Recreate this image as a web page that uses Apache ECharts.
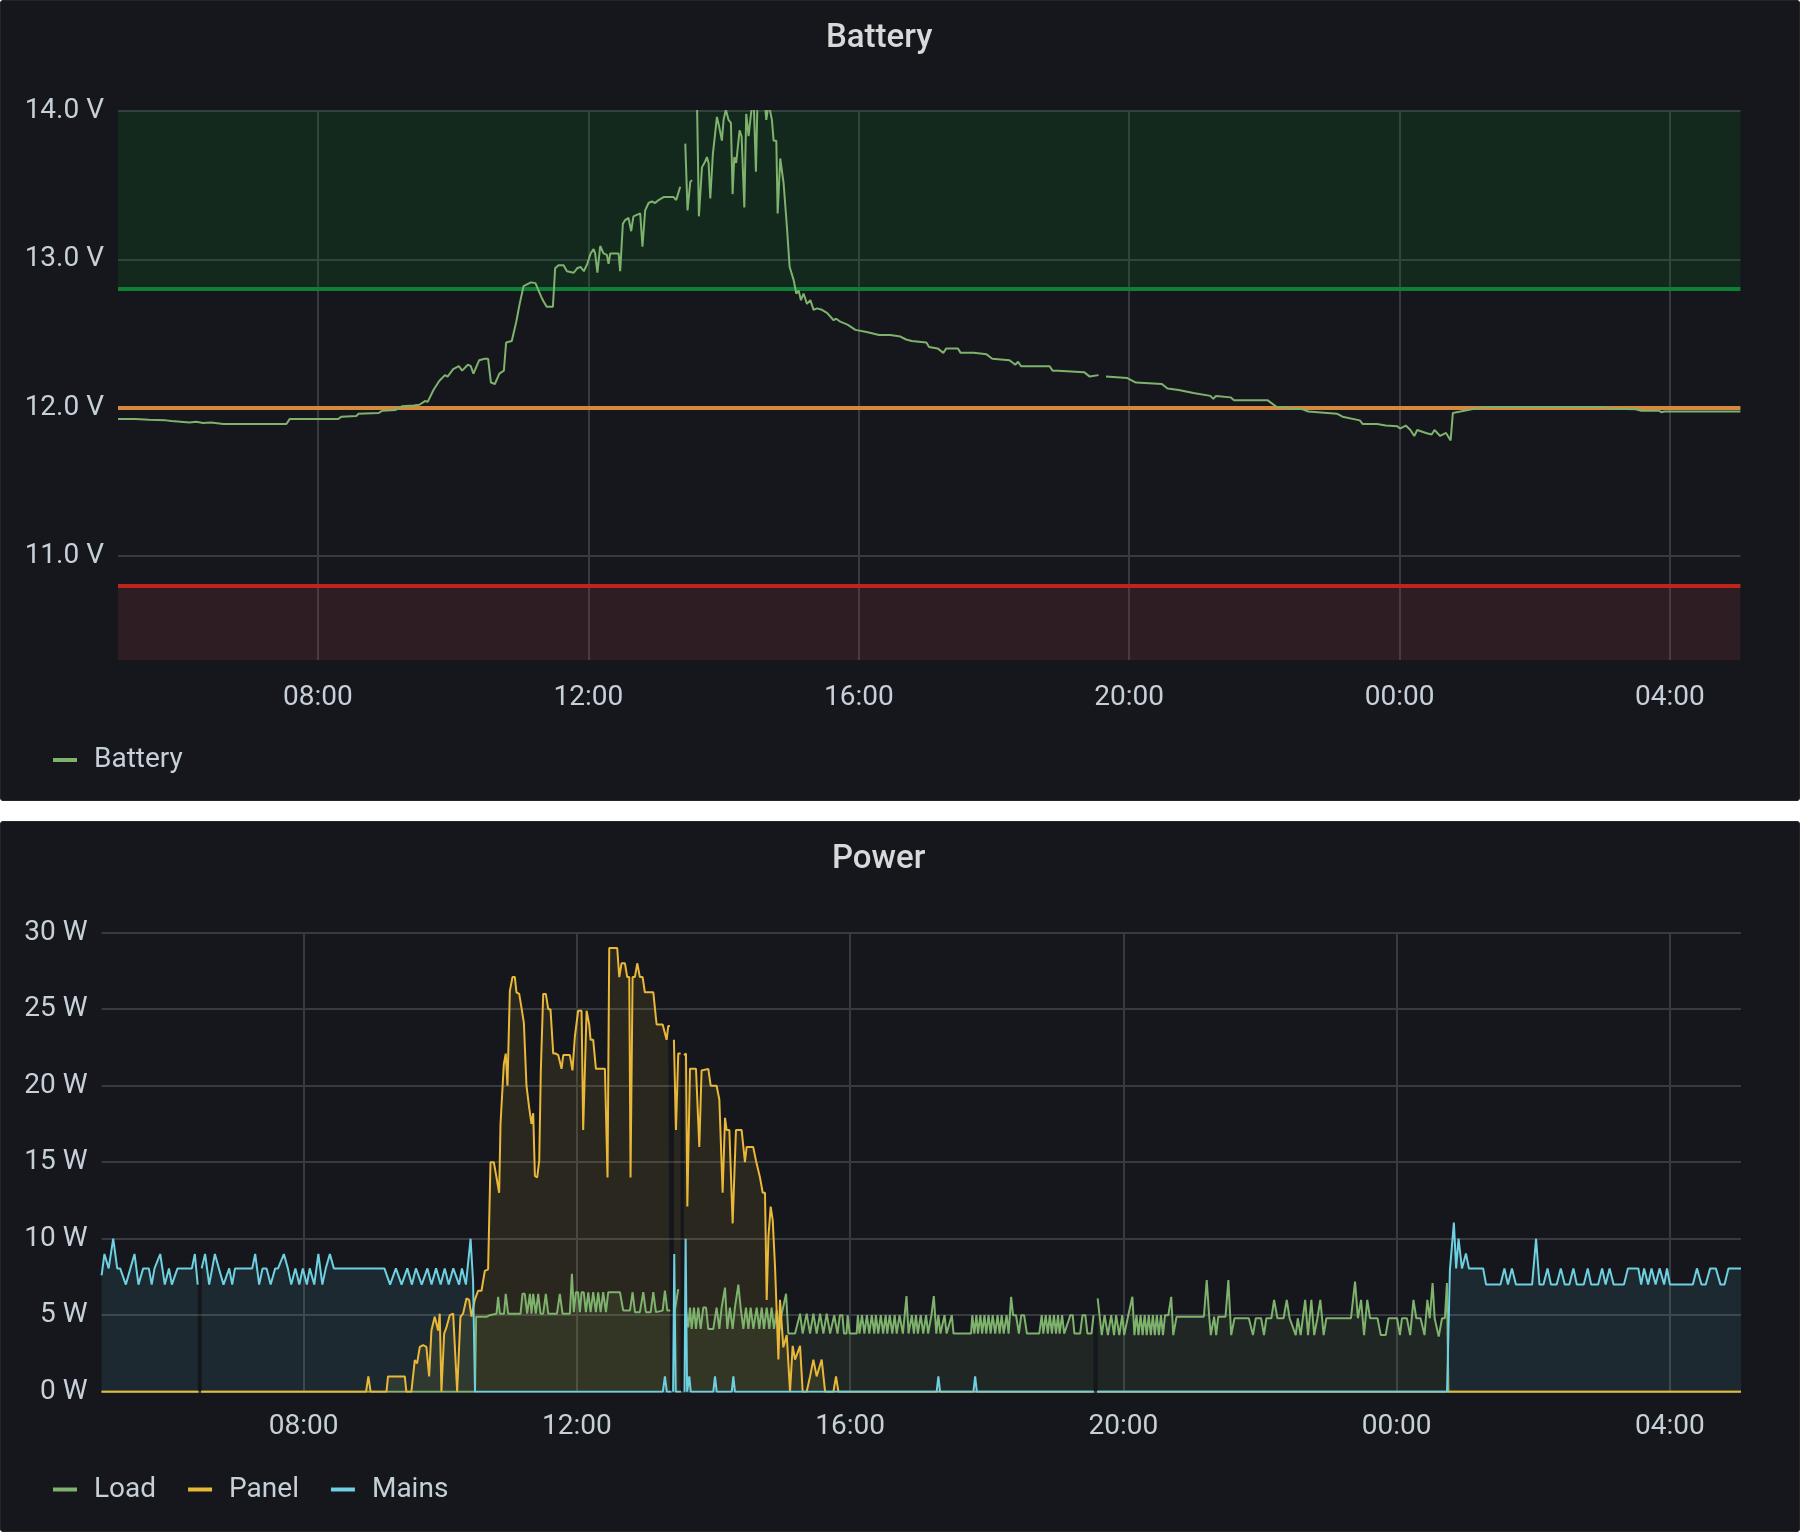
<!DOCTYPE html>
<html><head><meta charset="utf-8">
<script src="https://cdn.jsdelivr.net/npm/echarts@6/dist/echarts.min.js"></script>
<style>
html,body{margin:0;padding:0;background:#ffffff;width:1800px;height:1532px;overflow:hidden}
.panel{position:absolute;left:0;width:1800px;background:#15171c;border-radius:4px;box-shadow:inset 0 0 0 1px #22252b}
#p1{top:0;height:801px}
#p2{top:821px;height:711px}
</style></head><body>
<div id="p1" class="panel"></div><div id="p2" class="panel"></div>
<script>
// ---- time domain (minutes since 00:00 of the first day) ----
const START = 302.5, END = 1742.5;
const xTickMinutes = [480, 720, 960, 1200, 1440, 1680];
const batteryTicks = [11, 12, 13, 14];
const powerTicks = [0, 5, 10, 15, 20, 25, 30];
const thresholds = { low: 10.8, mid: 12.0, high: 12.8 };

// ---- Battery voltage [minute, V] ----
const batteryData = [
[302.5,11.925],[318,11.925],[330,11.92],[331,11.915],[345,11.915],[350,11.91],[358,11.905],[366,11.9],[372,11.905],[378,11.897],[385,11.9],[396,11.89],[420,11.89],[452,11.89],[455,11.925],[470,11.925],[498,11.925],[501,11.94],[514,11.945],[516,11.96],[534,11.965],[537,11.98],[549,11.985],[554.5,12.01],[565,12.015],[570,12.02],[575,12.045],[577.4,12.04],[582.5,12.12],[587.6,12.18],[592.7,12.22],[595,12.21],[600,12.26],[605,12.28],[608,12.25],[613,12.29],[615.6,12.28],[618,12.23],[623,12.32],[628,12.33],[631,12.33],[633.5,12.17],[637,12.16],[641,12.23],[645,12.25],[647,12.44],[652,12.45],[656,12.58],[659,12.7],[662.5,12.82],[669,12.845],[673,12.84],[678,12.75],[680,12.72],[683,12.68],[686,12.68],[688.5,12.68],
[690.5,12.94],[693.5,12.96],[698,12.96],[701,12.92],[707,12.91],[710,12.94],[713,12.95],[716,12.92],[719,12.97],[722,13.04],[724.6,13.07],[726,13.04],[728,12.91],[730.5,13.09],[733.4,13.04],[736.4,13.03],[737.9,12.97],[739.4,13.04],[743.8,13.04],[746.8,13.04],[748.2,12.92],[750.6,13.24],[752.7,13.265],[755.6,13.28],[758,13.19],[760,13.29],[766,13.31],[768,13.085],[770.4,13.33],[773.4,13.38],[776.4,13.39],[779.3,13.38],[782.3,13.4],[786.7,13.42],[791.2,13.42],[795.6,13.42],[798,13.4],[801.5,13.49],[803.5,null],[806,13.78],[808,13.33],[810.4,13.52],[811.9,13.535],[813.5,null],[816.3,14.1],[818.1,13.29],[820.8,13.62],[823.7,13.66],[825.2,13.69],[826.7,13.65],[828.2,13.41],[830.5,13.71],[834.1,13.96],[836.2,13.89],[838.5,13.8],[840,13.94],[842,14.01],[844.4,13.94],[846.5,13.92],[848,13.44],[849.5,13.69],[851.2,13.65],[852.4,13.74],[854.2,13.87],[856,13.83],[858.4,13.35],[860.1,13.98],[862.2,13.83],[864.3,13.98],[866.6,14.1],[868.7,13.59],[870.2,14.1],[875,14.2],[877.9,13.94],[880,14.05],[881.4,14.05],[882.9,13.94],[884.4,13.8],[886.8,13.8],[888,13.31],[890.3,13.68],[893.3,13.51],[896.2,13.22],[898.6,12.95],[902.2,12.86],[904.5,12.77],[906.6,12.79],[908.7,12.725],[911,12.77],[914,12.7],[917,12.725],[919.9,12.66],[922.9,12.67],[927.3,12.66],[931.8,12.64],[937.7,12.59],[940,12.6],[943.6,12.58],[950,12.56],[957,12.525],[967,12.51],[978,12.49],[988,12.49],[997,12.48],[1002,12.46],[1007,12.45],[1020,12.44],[1022.4,12.41],[1030,12.4],[1035,12.37],[1037.7,12.4],[1048,12.4],[1050.4,12.37],[1062,12.37],[1073.4,12.36],[1078.5,12.33],[1093.8,12.32],[1098.9,12.29],[1101.4,12.31],[1104,12.28],[1129.4,12.28],[1132,12.25],[1137,12.25],[1160,12.24],[1165,12.21],[1172.8,12.22],[1175.5,null],[1179.4,12.21],[1198.3,12.2],[1206,12.17],[1229,12.16],[1234,12.13],[1244,12.12],[1257,12.1],[1272,12.08],[1274.7,12.06],[1277,12.08],[1290,12.07],[1293,12.05],[1323,12.05],[1331,12.005],[1354,11.99],[1359,11.975],[1384.3,11.96],[1389.4,11.94],[1404.7,11.915],[1407.3,11.89],[1420,11.89],[1427.7,11.88],[1438,11.875],[1440.4,11.86],[1445.5,11.88],[1449.6,11.85],[1453,11.81],[1455.7,11.85],[1463.4,11.83],[1468.5,11.82],[1471,11.85],[1476,11.81],[1481.2,11.83],[1485.3,11.78],[1487.3,11.965],[1494,11.975],[1504,11.99],[1509.2,11.998],[1517,12.005],[1619,12.005],[1624,11.995],[1649.5,11.99],[1654.5,11.98],[1670,11.98],[1672.4,11.97],[1675,11.975],[1742.5,11.975]
];

// ---- Power: Load [minute, W] ----
const loadData = [
[302.5,0],[387.5,0],[388.4,null],[390,0],[630.5,0],[631.5,4.9],[641,4.9],[643.5,5.0],[649.4,5.1],[650.8,6.2],[652.3,5.1],[656,5.1],[657.5,6.4],[659.6,5.1],[670.5,5.1],[672.2,6.4],[674.2,6.4],[676.3,5.1],[678.7,6.4],[680.1,5.1],[681.6,6.4],[683.9,5.1],[686,6.4],[688,5.1],[690.4,5.1],[692.7,6.4],[694.8,5.1],[702.5,5.1],[705,6.4],[707.4,5.1],[713.8,5.1],[715.6,7.7],[717.3,5.2],[719.1,6.5],[721,6.5],[722.6,5.2],[724.1,6.5],[726,6.5],[727.9,5.2],[730,6.5],[732,5.2],[734.3,6.5],[736.7,5.2],[738.7,6.5],[740.8,5.2],[743.1,6.5],[745.5,5.2],[747.5,6.5],[757.8,6.5],[760.7,5.3],[766.6,5.3],[768.9,6.5],[771,5.2],[775.3,5.2],[778.3,6.5],[780.6,5.2],[784.8,5.2],[787.1,6.5],[789.4,5.2],[795.3,5.3],[797.3,6.6],[799.4,5.3],[802,5.3],[803.5,null],[806,5.3],[809,6.7],[812,null],[815.8,5.3],[817.8,4.2],[819.3,5.5],[820.8,4.1],[822.8,5.5],[824.6,4.1],[826.6,5.5],[828.7,4.1],[831,5.5],[833.4,5.5],[835.4,4.1],[839.8,4.1],[842.7,5.5],[845.1,4.1],[847.1,5.5],[850.1,6.8],[852.1,4.1],[854.4,5.5],[856.8,4.1],[858.8,5.5],[861.8,7.0],[863.8,5.5],[866.2,4.1],[868.5,5.5],[870.6,4.1],[872.6,5.5],[875,4.1],[877.9,5.5],[880.2,4.1],[882.3,5.5],[884.3,4.1],[886.7,5.5],[889,4.1],[891,5.5],[893.1,4.1],[895.5,5.3],[897.8,4.0],[899.9,5.1],[901.5,5.1],[903.7,6.4],[905.7,3.8],[911.6,3.8],[916,5.1],[918.3,3.8],[921.8,5.1],[924.8,3.8],[927.7,5.1],[930.6,3.8],[933.6,5.1],[936.5,3.8],[939.4,5.1],
[942.4,3.8],[946,5.0],[948.9,3.8],[951,5.0],[953.2,5.0],[954.6,3.8],[956.8,3.8],[957.8,5.0],[959.6,3.8],[965.7,3.8],[966.8,5.0],[968.2,3.8],[970.4,5.0],[972.5,3.8],[974.7,5.0],[976.8,3.8],[979,5.0],[981.2,3.8],[982.6,5.0],[984.7,3.8],[986.9,5.0],[989,3.8],[991.2,5.0],[992.6,3.8],[994.8,5.0],[997,3.8],[999.1,5.0],[1000.9,3.8],[1003.4,5.0],[1006.3,3.8],[1009.5,6.25],[1011.3,3.8],[1014.2,5.0],[1016,3.8],[1017.8,5.0],[1019.5,3.8],[1022,5.0],[1024.2,3.8],[1026.7,5.0],[1028.5,3.8],[1031.4,5.0],[1033.5,6.25],[1035.7,3.8],[1037.5,5.0],[1039.3,3.8],[1042.9,5.0],[1044.7,3.8],[1049.3,5.0],[1050.8,3.8],[1066.2,3.8],[1067.3,5.0],[1069.1,3.8],[1070.9,5.0],[1072.3,3.8],[1074.4,5.0],[1075.9,3.8],[1078,5.0],[1079.5,3.8],[1081.6,5.0],[1083.4,3.8],[1085.2,5.0],[1087.4,3.8],[1089.5,5.0],[1091.3,3.8],[1093.1,5.0],[1094.9,3.8],[1097.4,5.0],[1099.2,3.8],[1101.4,6.2],[1103.1,5.0],[1105.7,5.0],[1108.2,3.8],[1110.3,5.0],[1112.8,5.0],[1115.3,3.8],[1126.1,3.8],[1128.3,5.0],[1129.7,3.8],[1131.8,5.0],[1133.6,3.8],[1135.4,5.0],[1137.2,3.8],[1139,5.0],[1140.8,3.8],[1142.6,5.0],[1144,3.8],[1146.2,5.0],[1148,3.8],[1153.4,5.0],[1155.5,5.0],[1157,3.8],[1162,3.8],[1164.1,5.0],[1166.6,5.0],[1168.4,3.8],[1172,3.8],[1173.8,5.0],[1175.2,null],[1177.4,6.1],[1179.2,4.9],[1181,3.7],[1183.5,5.0],[1186.4,3.7],[1189.3,5.0],[1191.8,3.7],[1193.6,5.0],[1196.4,3.7],[1199,5.0],[1200.7,3.7],[1204.3,5.0],[1207.9,6.2],[1209.7,3.7],[1211.5,5.0],[1213.3,3.7],[1215.1,5.0],[1216.9,3.7],[1218.7,5.0],[1220.5,3.7],[1222.3,5.0],[1224.1,3.7],[1225.9,5.0],[1227.6,3.7],[1229.4,5.0],[1231.2,3.7],[1233,5.0],[1234.8,3.7],[1236.6,5.0],[1239.5,5.0],[1242,6.2],[1243.8,3.7],[1246.7,4.9],[1270.7,4.9],[1273.2,7.3],[1275.4,4.9],[1276.8,3.7],[1279.7,4.9],[1281.5,3.7],[1283.3,4.9],[1289.7,4.9],[1292.2,7.3],[1294.7,3.7],[1297.6,4.8],[1310.2,4.8],[1313.8,3.7],[1316.3,4.8],[1321,4.8],[1323.5,3.7],[1325.6,4.8],[1330,4.8],[1332.4,6.0],[1335.3,4.8],[1340.7,4.8],[1343.5,6.0],[1346,4.8],[1351.4,3.7],[1353.2,4.8],[1355.7,3.7],[1359.7,6.0],[1362.2,3.7],[1365.1,6.0],[1367.6,3.7],[1370.4,4.8],[1373,6.0],[1375.9,3.7],[1378.3,4.8],[1399.9,4.8],[1403.5,7.2],[1406,4.8],[1408.8,6.0],[1411.4,3.7],[1414.2,6.0],[1416.7,4.8],[1423.2,4.8],[1426.1,3.7],[1430.4,3.7],[1432.9,4.8],[1440.4,4.8],[1442.9,3.7],[1444.7,4.8],[1449,4.8],[1451.9,3.7],[1454.8,6.0],[1457.3,4.8],[1461,4.8],[1464.5,3.7],[1467,6.0],[1469.1,4.8],[1471.6,7.1],[1473.4,4.8],[1477,3.6],[1479.9,4.8],[1482.4,4.8],[1484.2,7.1],[1485.5,0],[1742.5,0]
];

// ---- Power: Panel [minute, W] ----
const panelData = [
[302.5,0],[387.5,0],[388.4,null],[390,0],[534.8,0],[536.8,1.0],[538.8,0],[552.7,0],[554.1,1.0],[568.8,1.0],[570.2,0],[574.6,0],[577.6,2.07],[579.6,1.85],[582,2.93],[584.9,3.04],[587.8,2.93],[590.2,1.0],[592.2,4.0],[595.1,4.9],[598.1,4.0],[599.5,5.1],[601,0],[603.4,3.8],[605.4,4.2],[608.3,5.0],[611.3,5.1],[614.8,0],[617.7,4.9],[620,5.1],[623,6.1],[625.3,6.0],[627.4,4.9],[630.3,6.0],[633.2,6.6],[636.2,6.6],[639.1,7.9],[642,8.0],[644.1,15.0],[647,15.0],[649.4,14.0],[651.7,13.0],[652.9,17.5],[655.8,21.4],[657.5,22.1],[659,20.0],[661.1,26.2],[663.4,27.1],[665.5,27.1],[666.9,26.1],[669.3,26.0],[671.3,25.1],[673.4,24.1],[675.7,20.0],[678,18.6],[680.1,17.5],[681.6,18.2],[683.1,14.1],[685.1,14.0],[686.9,15.1],[688.3,21.0],[690.4,26.0],[692.7,26.0],[694.8,25.0],[696.8,25.0],[699.2,22.1],[701.5,22.1],[703.6,22.0],[705,22.0],[706.5,21.1],[708,22.0],[713.8,22.0],[716.1,21.0],[718.2,23.2],[721.1,24.9],[724.1,24.9],[725.5,17.1],[727,17.1],[728.5,24.9],[730.8,24.0],[732,23.0],[734.3,23.0],[736.7,21.1],[744.6,21.1],[746.9,14.0],[748.4,29.0],[755.4,29.0],[757.2,27.1],[759.2,28.0],[762.2,28.0],[764.2,27.1],[766,27.1],[767.1,14.0],[768.9,27.1],[770.9,27.1],[773,28.0],[775.3,27.1],[777.7,27.1],[779.7,26.1],[787.1,26.1],[790,24.0],[795.3,24.0],[798.8,23.0],[800.2,23.9],[801.7,23.9],[803.5,null],[805.2,23.0],[807,17.1],[809,22.1],[811.1,22.1],[812,null],[814,22.0],[815.8,22.1],[817,12.1],[819.3,21.1],[824.6,21.1],[827.5,16.0],[829.5,21.0],[835.4,21.1],[837.5,20.0],[842.7,20.0],[845.1,19.1],[848,13.0],[850.1,17.9],[851.5,17.1],[853.9,17.1],[856.8,11.0],[859.7,17.1],[864.7,17.1],[867.6,15.0],[869.1,16.0],[874.8,16.0],[877.3,15.1],[880.8,14.0],[883.2,13.0],[885.2,13.0],[886.7,6.0],[888.2,10.1],[890.2,12.1],[892,11.2],[894,8.2],[897,2.1],[898.4,6.0],[901.3,2.9],[904.3,3.7],[907.2,0],[909.5,3.0],[911.6,2.1],[916,3.0],[918.3,0],[921.8,0],[924.8,1.0],[927.7,2.1],[930.6,1.0],[935,2.1],[938,0],[945.3,0],[947.6,1.0],[949.7,0],[1174,0],[1175.2,null],[1177,0],[1742.5,0]
];

// ---- Power: Mains [minute, W] ----
const mainsData = [
[302.5,7.6],[305,9.0],[308.7,8.06],[312.7,10.0],[316.2,8.06],[318.8,8.06],[323.8,7.0],[327.8,8.06],[331.4,9.0],[334.9,7.0],[339,8.06],[344,8.06],[346.5,7.0],[349,8.06],[354,9.0],[358,7.0],[361.7,8.06],[364.2,7.0],[369.2,8.06],[381.8,8.06],[384.4,9.0],[386.9,7.0],[388.4,null],[390.4,8.06],[393.4,9.0],[397,7.0],[402,9.0],[405.5,8.06],[409.6,7.0],[414.6,8.06],[417.2,7.0],[419.7,8.06],[434.8,8.06],[437.4,9.0],[440.9,7.0],[443.9,8.06],[447.4,8.06],[451,7.0],[455,8.06],[457.5,8.06],[462.6,9.0],[466.1,8.06],[469.1,7.0],[472.7,8.06],[476.2,7.0],[479.2,8.06],[482.8,7.0],[485.3,8.06],[489.3,7.0],[492.9,9.0],[496.4,7.0],[499.4,8.06],[503,9.0],[506.5,8.06],[550.9,8.06],[555.9,7.0],[561,8.06],[566,7.0],[571,8.06],[575.1,7.0],[578.6,8.06],[583.7,7.0],[588.7,8.06],[592.3,7.0],[596.3,8.06],[600.3,7.0],[603.9,8.06],[607.4,7.0],[611.4,8.06],[616.5,7.0],[619,8.06],[622.5,7.0],[626.6,10.0],[628.8,7.2],[630.5,0],[795.5,0],[797.3,1.0],[799,0],[803,0],[803.5,null],[804.5,0],[805.5,9.0],[806.8,0],[811.5,0],[812,null],[814.5,0],[815.5,10.0],[816.8,0],[817.5,0],[818.7,1.0],[820,0],[839.8,0],[841.3,1.0],[842.8,0],[856,0],[857.4,1.0],[858.8,0],[1036,0],[1037.5,1.0],[1039,0],[1068.3,0],[1069.8,1.0],[1071.3,0],[1174,0],[1175.2,null],[1177,0],[1484.3,0],[1486.8,7.95],[1490.3,11.05],[1492.3,8.06],[1494.4,10.0],[1497.4,8.06],[1500.9,9.04],[1503.5,8.06],[1516,8.06],[1518.6,7.0],[1531.2,7.0],[1534.7,8.06],[1537.8,7.0],[1541.3,8.06],[1544.8,7.0],[1559,7.0],[1562.5,10.0],[1565.5,7.0],[1569,7.0],[1572.6,8.06],[1575.6,7.0],[1580.6,7.0],[1584.2,8.06],[1587.7,7.0],[1591.7,7.0],[1595.3,8.06],[1598.3,7.0],[1604.4,7.0],[1607.9,8.06],[1610.9,7.0],[1617,7.0],[1620.5,8.06],[1623.6,7.0],[1627.1,8.06],[1630.6,7.0],[1639.7,7.0],[1643.2,8.06],[1652.3,8.06],[1654.8,7.0],[1657.4,8.06],[1660.9,7.0],[1663.9,8.06],[1667.5,7.0],[1671,8.06],[1675,7.0],[1677.5,8.06],[1680.1,7.0],[1700.2,7.0],[1703.8,8.06],[1707.8,7.0],[1711.5,7.0],[1715.4,8.06],[1720.4,8.06],[1724.5,7.0],[1728,7.0],[1731.5,8.06],[1742.5,8.06]
];

// ---- styling ----
const FONT = 'Roboto, "Noto Sans", sans-serif';
const TEXT = '#c7d0d9';
const TITLE = '#d8d9da';
const GRIDC = '#373a3f';
const C_LOAD = '#7eb26d', C_PANEL = '#eab839', C_MAINS = '#6ed0e0';

function hhmm(m) {
  m = ((m % 1440) + 1440) % 1440;
  const h = Math.floor(m / 60), mm = Math.round(m % 60);
  return String(h).padStart(2, '0') + ':' + String(mm).padStart(2, '0');
}
function xAxisCfg(margin) {
  return {
    type: 'value', min: START, max: END,
    axisLine: { show: false },
    axisTick: { show: false, customValues: xTickMinutes },
    axisLabel: { customValues: xTickMinutes, formatter: hhmm, color: TEXT, fontSize: 28, fontFamily: FONT, margin: margin },
    splitLine: { show: true, lineStyle: { color: GRIDC, width: 2 } }
  };
}
function legendCfg(names, top) {
  return {
    left: 53, top: top, padding: 0, itemWidth: 24, itemHeight: 4, itemGap: 32, icon: 'rect',
    textStyle: { color: TEXT, fontSize: 28, fontFamily: FONT, padding: [0, 0, 0, 12] },
    data: names
  };
}

const c1 = echarts.init(document.getElementById('p1'));
c1.setOption({
  animation: false,
  title: { text: 'Battery', left: 826, top: 22.5, padding: 0, textStyle: { color: TITLE, fontSize: 33, fontWeight: 500, fontFamily: FONT } },
  legend: legendCfg(['Battery'], 746),
  grid: { left: 118, right: 59.6, top: 111, bottom: 141, containLabel: false, outerBoundsMode: 'none' },
  xAxis: xAxisCfg(24),
  yAxis: {
    type: 'value', min: 10.3, max: 14,
    axisLine: { show: false },
    axisTick: { show: false, customValues: batteryTicks },
    axisLabel: { customValues: batteryTicks, formatter: v => v.toFixed(1) + ' V', color: TEXT, fontSize: 28, fontFamily: FONT, margin: 14, padding: [8, 0, 0, 0] },
    splitLine: { show: true, lineStyle: { color: GRIDC, width: 2 } }
  },
  series: [{
    name: 'Battery', type: 'line', data: batteryData, showSymbol: false, symbol: 'none',
    lineStyle: { color: C_LOAD, width: 2 }, itemStyle: { color: C_LOAD }, z: 3,
    markArea: {
      silent: true, z: 1,
      data: [
        [{ yAxis: thresholds.high, itemStyle: { color: 'rgba(10,130,45,0.18)' } }, { yAxis: 14 }],
        [{ yAxis: 10.3, itemStyle: { color: 'rgba(180,60,70,0.16)' } }, { yAxis: thresholds.low }]
      ]
    },
    markLine: {
      silent: true, z: 2, symbol: ['none', 'none'], label: { show: false },
      data: [
        { yAxis: thresholds.high, lineStyle: { color: '#0c8136', width: 4, type: 'solid' } },
        { yAxis: thresholds.mid, lineStyle: { color: '#d6883e', width: 4, type: 'solid' } },
        { yAxis: thresholds.low, lineStyle: { color: '#c0251d', width: 4, type: 'solid' } }
      ]
    }
  }]
});

function powerSeries(name, data, color) {
  return {
    name: name, type: 'line', data: data, showSymbol: false, symbol: 'none',
    lineStyle: { color: color, width: 2 }, itemStyle: { color: color },
    areaStyle: { color: color, opacity: 0.1 }
  };
}
const c2 = echarts.init(document.getElementById('p2'));
c2.setOption({
  animation: false,
  title: { text: 'Power', left: 832, top: 22, padding: 0, textStyle: { color: TITLE, fontSize: 33, fontWeight: 500, fontFamily: FONT } },
  legend: legendCfg(['Load', 'Panel', 'Mains'], 654.5),
  grid: { left: 101.6, right: 59, top: 111.7, bottom: 140.3, containLabel: false, outerBoundsMode: 'none' },
  xAxis: xAxisCfg(21),
  yAxis: {
    type: 'value', min: 0, max: 30, interval: 5,
    axisLine: { show: false },
    axisTick: { show: false },
    axisLabel: { formatter: v => v + ' W', color: TEXT, fontSize: 28, fontFamily: FONT, margin: 14, padding: [8, 0, 0, 0] },
    splitLine: { show: true, lineStyle: { color: GRIDC, width: 2 } }
  },
  series: [
    powerSeries('Load', loadData, C_LOAD),
    powerSeries('Panel', panelData, C_PANEL),
    powerSeries('Mains', mainsData, C_MAINS)
  ]
});
</script></body></html>
